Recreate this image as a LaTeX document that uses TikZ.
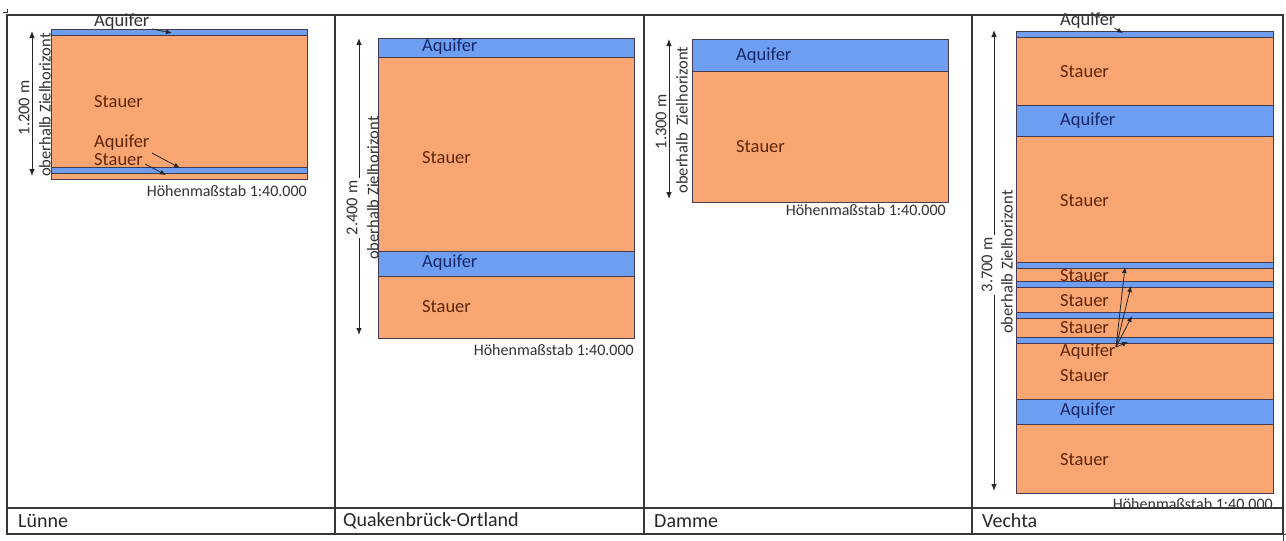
\documentclass[tikz,border=0pt]{standalone}
\usepackage{fontspec}
\setmainfont{Carlito}
\usetikzlibrary{arrows.meta}
\definecolor{stfill}{RGB}{250,166,114}
\definecolor{aqfill}{RGB}{110,158,242}
\definecolor{layerline}{RGB}{70,58,78}
\definecolor{sttext}{RGB}{95,38,8}
\definecolor{aqtext}{RGB}{22,40,105}
\definecolor{outtext}{RGB}{50,50,50}
\definecolor{gridline}{RGB}{55,55,55}
\tikzset{
  stlayer/.style={fill=stfill, draw=layerline, line width=0.9pt},
  aqlayer/.style={fill=aqfill, draw=layerline, line width=0.9pt},
  lbl/.style={anchor=west, inner sep=0pt, font=\fontsize{18.5}{21}\selectfont},
  lblS/.style={lbl, text=sttext},
  lblA/.style={lbl, text=aqtext},
  lblO/.style={lbl, text=outtext},
  scalelbl/.style={anchor=east, inner sep=0pt, text=outtext, font=\fontsize{16}{18}\selectfont},
  dimline/.style={{Latex[length=7pt,width=5.5pt]}-{Latex[length=7pt,width=5.5pt]}, line width=0.9pt, draw=black!85},
  dimnum/.style={rotate=90, fill=white, inner sep=3pt, text=outtext, font=\fontsize{16.5}{18}\selectfont},
  dimtxt/.style={rotate=90, inner sep=0pt, text=outtext, font=\fontsize{16.5}{18}\selectfont},
  leader/.style={-{Latex[length=6pt,width=5pt]}, line width=0.8pt, draw=black!85},
  grid/.style={draw=gridline, line width=1.3pt},
  rowlbl/.style={anchor=west, inner sep=0pt, text=black!85, font=\fontsize{20}{22}\selectfont}
}
\begin{document}
\begin{tikzpicture}[x=1pt,y=-1pt]
\useasboundingbox (0,0) rectangle (1286,541);
\fill[white] (0,0) rectangle (1286,541);

% ---------------- Panel 1: Lünne ----------------
\draw[aqlayer] (51,29) rectangle (307,35);
\draw[stlayer] (51,35) rectangle (307,167);
\draw[aqlayer] (51,167) rectangle (307,173);
\draw[stlayer] (51,173) rectangle (307,179);
\node[lblO] (p1a) at (94,22) {Aquifer};
\node[lblS] (p1s) at (94,102) {Stauer};
\node[lblS] (p1a2) at (94,143) {Aquifer};
\node[lblS] (p1s2) at (94,160) {Stauer};
\coordinate (p1a-from) at (152,29);
\coordinate (p1a-to) at (172,33);
\coordinate (p1a2-from) at (152,153);
\coordinate (p1a2-to) at (180,168);
\coordinate (p1s2-from) at (145,164);
\coordinate (p1s2-to) at (166,175);
\draw[leader] (p1a-from) -- (p1a-to);
\draw[leader] (p1a2-from) -- (p1a2-to);
\draw[leader] (p1s2-from) -- (p1s2-to);
\coordinate (d1t) at (32,31);
\coordinate (d1b) at (32,176);
\draw[dimline] (d1t) -- (d1b);
\node[dimnum] (d1n) at (24,108) {1.200 m};
\node[dimtxt] (d1o) at (45,105) {oberhalb Zielhorizont};
\node[scalelbl] (p1sc) at (307,191) {Höhenmaßstab 1:40.000};

% ---------------- Panel 2: Quakenbrück-Ortland ----------------
\draw[aqlayer] (378,38) rectangle (634,57);
\draw[stlayer] (378,57) rectangle (634,251);
\draw[aqlayer] (378,251) rectangle (634,276);
\draw[stlayer] (378,276) rectangle (634,338);
\node[lblA] (p2a) at (422,47) {Aquifer};
\node[lblS] (p2s) at (422,158) {Stauer};
\node[lblA] (p2a2) at (422,263) {Aquifer};
\node[lblS] (p2s2) at (422,307) {Stauer};
\coordinate (d2t) at (359,38);
\coordinate (d2b) at (359,335);
\draw[dimline] (d2t) -- (d2b);
\node[dimnum] (d2n) at (352,208) {2.400 m};
\node[dimtxt] (d2o) at (373,188) {oberhalb Zielhorizont};
\node[scalelbl] (p2sc) at (634,350) {Höhenmaßstab 1:40.000};

% ---------------- Panel 3: Damme ----------------
\draw[aqlayer] (692,39) rectangle (948,71);
\draw[stlayer] (692,71) rectangle (948,202);
\node[lblA] (p3a) at (736,56) {Aquifer};
\node[lblS] (p3s) at (736,147) {Stauer};
\coordinate (d3t) at (669,39);
\coordinate (d3b) at (669,199);
\draw[dimline] (d3t) -- (d3b);
\node[dimnum] (d3n) at (661,122) {1.300 m};
\node[dimtxt] (d3o) at (682,120) {oberhalb\ \ Zielhorizont};
\node[scalelbl] (p3sc) at (946,210) {Höhenmaßstab 1:40.000};

% ---------------- Panel 4: Vechta ----------------
\draw[aqlayer] (1016,31) rectangle (1273,37);
\draw[stlayer] (1016,37) rectangle (1273,105);
\draw[aqlayer] (1016,105) rectangle (1273,136);
\draw[stlayer] (1016,136) rectangle (1273,262);
\draw[aqlayer] (1016,262) rectangle (1273,268);
\draw[stlayer] (1016,268) rectangle (1273,281);
\draw[aqlayer] (1016,281) rectangle (1273,287);
\draw[stlayer] (1016,287) rectangle (1273,312);
\draw[aqlayer] (1016,312) rectangle (1273,318);
\draw[stlayer] (1016,318) rectangle (1273,337);
\draw[aqlayer] (1016,337) rectangle (1273,343);
\draw[stlayer] (1016,343) rectangle (1273,399);
\draw[aqlayer] (1016,399) rectangle (1273,424);
\draw[stlayer] (1016,424) rectangle (1273,493);
\node[lblO] (p4a0) at (1060,21) {Aquifer};
\node[lblS] (p4s1) at (1060,72) {Stauer};
\node[lblA] (p4a1) at (1060,121) {Aquifer};
\node[lblS] (p4s2) at (1060,201) {Stauer};
\node[lblS] (p4s3) at (1060,276) {Stauer};
\node[lblS] (p4s4) at (1060,301) {Stauer};
\node[lblS] (p4s5) at (1060,328) {Stauer};
\node[lblS] (p4a2) at (1060,352) {Aquifer};
\node[lblS] (p4s6) at (1060,376) {Stauer};
\node[lblA] (p4a3) at (1060,411) {Aquifer};
\node[lblS] (p4s7) at (1060,460) {Stauer};
\coordinate (p4a0-from) at (1114,28);
\coordinate (p4a0-to) at (1123,33);
\draw[leader] (p4a0-from) -- (p4a0-to);
\coordinate (p4a2-from) at (1116,347);
\coordinate (v1) at (1125,267);
\coordinate (v2) at (1131,286);
\coordinate (v3) at (1132,316);
\coordinate (v4) at (1128,342);
\draw[leader] (p4a2-from) -- (v1);
\draw[leader] (p4a2-from) -- (v2);
\draw[leader] (p4a2-from) -- (v3);
\draw[leader] (p4a2-from) -- (v4);
\coordinate (d4t) at (994,30);
\coordinate (d4b) at (994,491);
\draw[dimline] (d4t) -- (d4b);
\node[dimnum] (d4n) at (987,265) {3.700 m};
\node[dimtxt] (d4o) at (1007,262) {oberhalb Zielhorizont};
\node[scalelbl] (p4sc) at (1273,504) {Höhenmaßstab 1:40.000};

% ---------------- Table ----------------
\draw[grid] (7,15) rectangle (1283,534);
\draw[grid] (7,508) -- (1283,508);
\draw[grid] (335,15) -- (335,534);
\draw[grid] (644,15) -- (644,534);
\draw[grid] (972,15) -- (972,534);
\draw[gridline, line width=0.8pt] (3,12) -- (7,12) -- (7,9);
\draw[gridline, line width=0.8pt] (1283,534) -- (1283,541);
\draw[gridline, line width=0.8pt] (1283,534) -- (1286,534);
\node[rowlbl] (r1) at (18,521) {Lünne};
\node[rowlbl] (r2) at (343,521) {Quakenbrück-Ortland};
\node[rowlbl] (r3) at (654,521) {Damme};
\node[rowlbl] (r4) at (982,521) {Vechta};
\end{tikzpicture}
\end{document}
